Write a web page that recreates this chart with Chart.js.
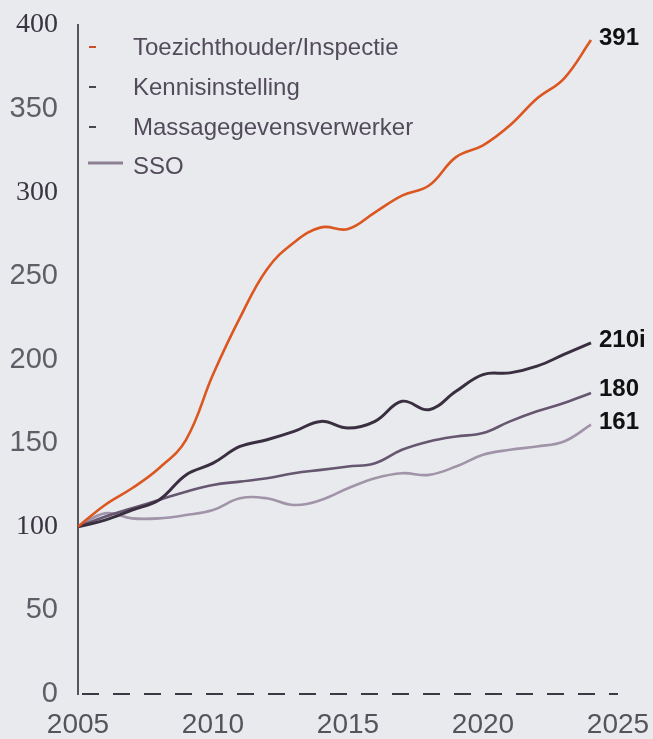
<!DOCTYPE html>
<html>
<head>
<meta charset="utf-8">
<script src="https://cdn.jsdelivr.net/npm/chart.js@4.4.1/dist/chart.umd.min.js"></script>
<style>
  html, body { margin: 0; padding: 0; background: #e8eaee; }
  #wrap { width: 653px; height: 739px; position: relative; }
</style>
</head>
<body>
<div id="wrap"><canvas id="chart"></canvas></div>
<script>
const years = [2005, 2006, 2007, 2008, 2009, 2010, 2011, 2012, 2013, 2014,
               2015, 2016, 2017, 2018, 2019, 2020, 2021, 2022, 2023, 2024];

const toezichthouder = [100, 113, 123, 135, 152, 191, 225, 254, 270, 279,
                        278, 288, 298, 304, 321, 328, 340, 356, 368, 391];
const kennisinstelling = [100, 104, 110, 116, 131, 138, 148, 152, 157, 163,
                          159, 163, 175, 170, 181, 191, 192, 196, 203, 210];
const massagegevens = [100, 106, 111, 116, 121, 125, 127, 129, 132, 134,
                       136, 138, 146, 151, 154, 156, 163, 169, 174, 180];
const sso = [100, 108, 105, 105, 107, 110, 117, 117, 113, 116,
             123, 129, 132, 131, 136, 143, 146, 148, 151, 161];

const seriesNames = ['Toezichthouder/Inspectie', 'Kennisinstelling', 'Massagegevensverwerker', 'SSO'];
const endLabels = ['391', '210i', '180', '161'];
const yTicks = [0, 50, 100, 150, 200, 250, 300, 350, 400];
const xTicks = [2005, 2010, 2015, 2020, 2025];

const lineColors = ['#dc5620', '#3a2f40', '#66566f', '#a194a9'];
const markerColors = ['#c9502c', '#4a4550', '#4a4550', '#8c8092'];
const allSeries = [toezichthouder, kennisinstelling, massagegevens, sso];

function points(values) {
  return years.map((yr, i) => ({ x: yr, y: values[i] }));
}

// background fill
const bgPlugin = {
  id: 'bg',
  beforeDraw(chart) {
    const ctx = chart.ctx;
    ctx.save();
    ctx.fillStyle = '#e8eaee';
    ctx.fillRect(0, 0, chart.width, chart.height);
    ctx.restore();
  }
};

// legend in the top-left of the plot
const legendPlugin = {
  id: 'cornerLegend',
  afterDraw(chart) {
    const ctx = chart.ctx;
    const baselines = [55, 95, 135, 174];
    ctx.save();
    ctx.font = '24px "Liberation Sans", Arial, sans-serif';
    ctx.textBaseline = 'alphabetic';
    ctx.textAlign = 'left';
    seriesNames.forEach((name, i) => {
      const by = baselines[i];
      ctx.strokeStyle = markerColors[i];
      ctx.lineCap = 'butt';
      ctx.beginPath();
      if (i === 3) {
        ctx.lineWidth = 3;
        ctx.moveTo(88, by - 11);
        ctx.lineTo(123, by - 11);
      } else {
        ctx.lineWidth = 2;
        ctx.moveTo(89, by - 8);
        ctx.lineTo(96, by - 8);
      }
      ctx.stroke();
      ctx.fillStyle = '#544b5a';
      ctx.fillText(name, 133, by);
    });
    ctx.restore();
  }
};

// value labels at the end of each line
const endLabelPlugin = {
  id: 'endLabels',
  afterDatasetsDraw(chart) {
    const ctx = chart.ctx;
    const offsets = [-2, -2, -4, -2];
    ctx.save();
    ctx.font = 'bold 24px "Liberation Sans", Arial, sans-serif';
    ctx.fillStyle = '#111111';
    ctx.textAlign = 'left';
    ctx.textBaseline = 'middle';
    chart.data.datasets.forEach((ds, i) => {
      const meta = chart.getDatasetMeta(i);
      const last = meta.data[meta.data.length - 1];
      ctx.fillText(endLabels[i], last.x + 8, last.y + offsets[i]);
    });
    ctx.restore();
  }
};

const darkTicks = [100, 300, 400];
const tickValue = (ctx) => (ctx && ctx.tick ? ctx.tick.value : null);
const isDark = (ctx) => darkTicks.includes(tickValue(ctx));

new Chart(document.getElementById('chart'), {
  type: 'line',
  data: {
    datasets: allSeries.map((vals, i) => ({
      label: seriesNames[i],
      data: points(vals),
      borderColor: lineColors[i],
      borderWidth: i === 1 ? 3 : 2.6,
      pointRadius: 0,
      tension: 0.4,
      fill: false
    }))
  },
  options: {
    responsive: true,
    maintainAspectRatio: false,
    animation: false,
    layout: { padding: { top: 25, right: 35, bottom: 0, left: 0 } },
    plugins: {
      legend: { display: false },
      tooltip: { enabled: false }
    },
    scales: {
      x: {
        type: 'linear',
        min: 2005,
        max: 2025,
        afterBuildTicks: (scale) => { scale.ticks = xTicks.map(v => ({ value: v })); },
        afterFit: (scale) => {
          scale.height = 45;
          scale.paddingLeft = 0;
          scale.paddingRight = 0;
        },
        grid: { display: false, drawTicks: false },
        border: { display: false },
        ticks: {
          padding: 14,
          color: '#55535c',
          font: { family: '"Liberation Sans Narrow", "Liberation Sans", sans-serif', size: 28 },
          callback: (v) => String(v)
        }
      },
      y: {
        min: 0,
        max: 400,
        afterBuildTicks: (scale) => { scale.ticks = yTicks.map(v => ({ value: v })); },
        afterFit: (scale) => {
          scale.width = 78;
          scale.paddingTop = 0;
          scale.paddingBottom = 0;
        },
        // only the zero line is shown, dashed
        grid: {
          display: true,
          drawTicks: false,
          lineWidth: 2,
          color: (ctx) => tickValue(ctx) === 0 ? '#3c3844' : 'rgba(0,0,0,0)'
        },
        border: { display: true, color: '#55555d', width: 2, dash: [17, 14], dashOffset: 28 },
        ticks: {
          padding: 20,
          color: (ctx) => isDark(ctx) ? '#3a3340' : '#5f5d66',
          font: (ctx) => isDark(ctx)
            ? { family: '"Liberation Serif", serif', size: 28 }
            : { family: '"Liberation Sans Narrow", "Liberation Sans", sans-serif', size: 29 },
          callback: (v) => String(v)
        }
      }
    }
  },
  plugins: [bgPlugin, legendPlugin, endLabelPlugin]
});
</script>
</body>
</html>
